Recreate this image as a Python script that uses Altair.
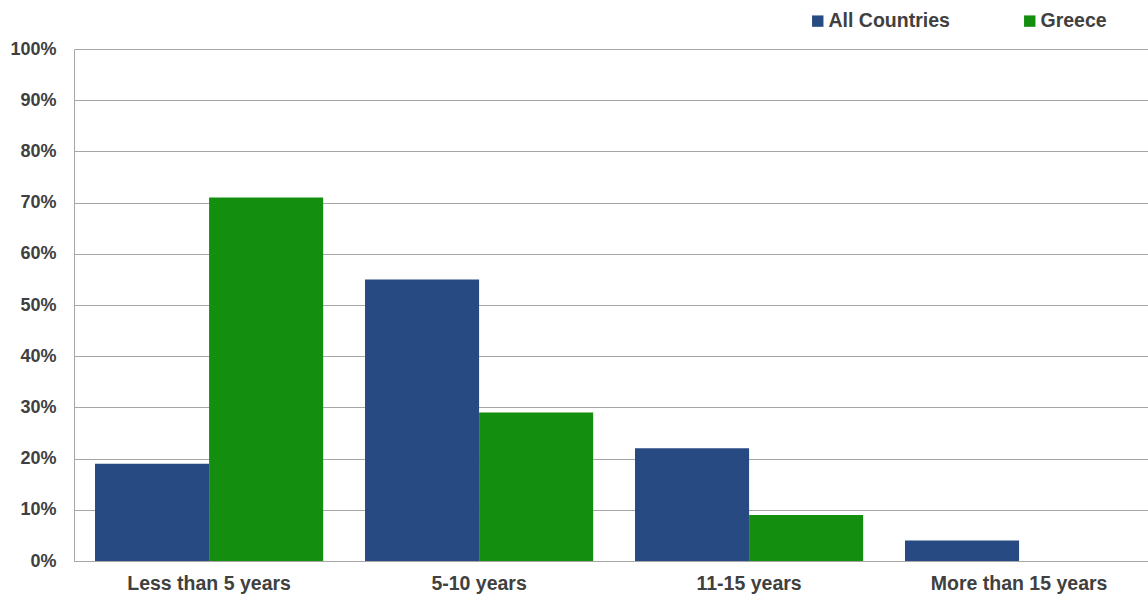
import altair as alt
import pandas as pd

categories = ["Less than 5 years", "5-10 years", "11-15 years", "More than 15 years"]
series = ["All Countries", "Greece"]
all_countries = [19, 55, 22, 4]
greece = [71, 29, 9, 0]

rows = []
for c, a, g in zip(categories, all_countries, greece):
    rows.append({"category": c, "series": "All Countries", "value": a / 100})
    rows.append({"category": c, "series": "Greece", "value": g / 100})
df = pd.DataFrame(rows)

FONT = "Liberation Sans"
TXT = "#404040"

chart = alt.Chart(df).mark_bar(stroke=None).encode(
    x=alt.X("category:N", sort=categories, title=None,
            scale=alt.Scale(paddingInner=0.155, paddingOuter=0.0664, align=0.586),
            axis=alt.Axis(labelAngle=0, labelFont=FONT, labelFontSize=19.5, labelFontWeight="bold",
                          labelColor=TXT, ticks=False, domainColor="#a6a6a6", labelPadding=13,
                          grid=False)),
    xOffset=alt.XOffset("series:N", sort=series, scale=alt.Scale(paddingInner=0, paddingOuter=0)),
    y=alt.Y("value:Q", title=None,
            scale=alt.Scale(domain=[0, 1], nice=False),
            axis=alt.Axis(format=".0%", values=[i / 10 for i in range(11)], labelFont=FONT,
                          labelFontSize=18, labelFontWeight="bold", labelColor=TXT, ticks=False,
                          domainColor="#a6a6a6", gridColor="#a6a6a6", labelPadding=18)),
    color=alt.Color("series:N", sort=series,
                    scale=alt.Scale(domain=series, range=["#284a82", "#138e0f"]),
                    legend=alt.Legend(title=None, orient="none", legendX=734, legendY=-38,
                                      direction="horizontal", symbolType="square", symbolSize=130,
                                      symbolStrokeWidth=0, labelFont=FONT, labelFontSize=19.5,
                                      labelFontWeight="bold", labelColor=TXT, columnPadding=70,
                                      labelOffset=1)),
).properties(
    width=1074, height=512,
    autosize=alt.AutoSizeParams(type="none"),
    padding={"left": 74, "top": 49, "right": 0, "bottom": 37},
).configure_view(stroke=None)

chart.save("out.html", embed_options={"renderer": "svg", "actions": False})
